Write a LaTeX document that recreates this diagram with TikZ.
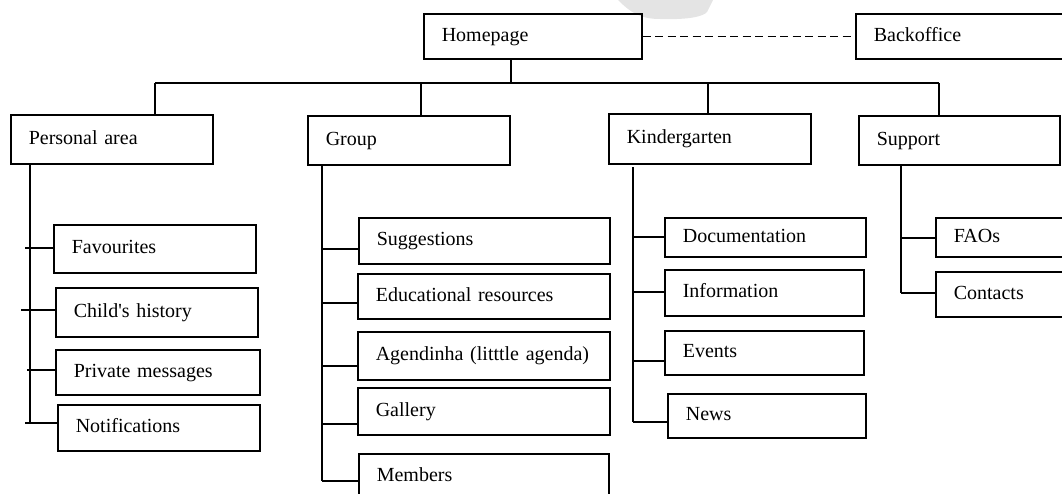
\documentclass[tikz,border=0pt]{standalone}
\usepackage{fontspec}
\setmainfont{Liberation Serif}
\definecolor{marklight}{HTML}{E4E4E4}

\begin{document}
\begin{tikzpicture}[x=1pt, y=-1pt, line width=1.6pt,
        pagebox/.style={draw, line width=1.6pt, anchor=north west, align=left,
            inner xsep=18pt, inner ysep=0pt, text height=14pt, text depth=4pt,
            font=\fontsize{20}{24}\selectfont},
        dashlink/.style={dash pattern=on 8pt off 4.5pt}]

    \useasboundingbox (0,0) rectangle (1062,493);
    \clip (0,0) rectangle (1062,493);

    % grey mark behind the top row
    \fill[marklight] (618,0) .. controls (630,12) and (640,19) .. (660,19)
        .. controls (690,20) and (704,16) .. (707,12) -- (713,0) -- cycle;

    % Top row:
    \node[pagebox, text width=182pt, minimum height=45pt] (home) at (423,13) {Homepage};
    \node[pagebox, text width=194pt, minimum height=45pt] (back) at (855,13) {Backoffice};
    \draw[dashlink] (home.east) -- (back.west);

    % Sections:
    \node[pagebox, text width=166pt, minimum height=49pt] (pa) at (10,114) {Personal area};
    \node[pagebox, text width=166pt, minimum height=49pt] (gr) at (307,115) {Group};
    \node[pagebox, text width=166pt, minimum height=50pt] (kg) at (608,113) {Kindergarten};
    \node[pagebox, text width=165pt, minimum height=49pt] (sp) at (858,115) {Support};

    % Bus:
    \coordinate (b0) at (511,83);
    \coordinate (b1) at (155,83);
    \coordinate (b2) at (421,83);
    \coordinate (b3) at (708,83);
    \coordinate (b4) at (939,83);
    \draw (b1) -- (b4);
    \draw (home.south -| b0) -- (b0);
    \draw (b1) -- (b1 |- pa.north);
    \draw (b2) -- (b2 |- gr.north);
    \draw (b3) -- (b3 |- kg.north);
    \draw (b4) -- (b4 |- sp.north);

    % Personal area pages:
    \node[pagebox, text width=166pt, minimum height=48pt] (fav) at (53,224) {Favourites};
    \node[pagebox, text width=166pt, minimum height=49pt] (chh) at (55,287) {Child\textquotesingle s history};
    \node[pagebox, text width=168pt, minimum height=45pt] (prm) at (55,349) {Private messages};
    \node[pagebox, text width=166pt, minimum height=46pt] (ntf) at (57,404) {Notifications};
    \coordinate (pb) at (30,423);
    \draw (pa.south -| pb) -- (pb);
    \foreach \n/\x/\y in {fav/25/248, chh/21/310, prm/27/370, ntf/25/423} {
        \coordinate (t) at (\x,\y);
        \draw (t) -- (t -| \n.west);
    }

    % Group pages:
    \node[pagebox, text width=215pt, minimum height=46pt] (sug) at (358,217) {Suggestions};
    \node[pagebox, text width=216pt, minimum height=45pt] (edu) at (357,273) {Educational resources};
    \node[pagebox, text width=216pt, minimum height=48pt] (agd) at (357,331) {Agendinha (litttle agenda)};
    \node[pagebox, text width=216pt, minimum height=47pt] (gal) at (357,387) {Gallery};
    \node[pagebox, text width=214pt, minimum height=46pt] (mem) at (358,453) {Members};
    \coordinate (gb) at (322,481);
    \draw (gr.south -| gb) -- (gb);
    \foreach \n/\y in {sug/249, edu/303, agd/366, gal/424, mem/481} {
        \coordinate (t) at (322,\y);
        \draw (t) -- (t -| \n.west);
    }

    % Kindergarten pages:
    \node[pagebox, text width=165pt, minimum height=39pt] (doc) at (664,217) {Documentation};
    \node[pagebox, text width=163pt, minimum height=46pt] (inf) at (664,269) {Information};
    \node[pagebox, text width=163pt, minimum height=44pt] (evt) at (664,330) {Events};
    \node[pagebox, text width=162pt, minimum height=44pt] (nws) at (667,393) {News};
    \coordinate (kt) at (633,167);
    \coordinate (kb) at (633,422);
    \draw (kt) -- (kb);
    \foreach \n/\y in {doc/237, inf/292, evt/361, nws/422} {
        \coordinate (t) at (633,\y);
        \draw (t) -- (t -| \n.west);
    }

    % Support pages:
    \node[pagebox, text width=114pt, minimum height=39pt] (faq) at (935,217) {FAOs};
    \node[pagebox, text width=114pt, minimum height=45pt] (cnt) at (935,271) {Contacts};
    \coordinate (sb) at (901,293);
    \draw (sp.south -| sb) -- (sb);
    \foreach \n/\y in {faq/238, cnt/293} {
        \coordinate (t) at (901,\y);
        \draw (t) -- (t -| \n.west);
    }
\end{tikzpicture}
\end{document}
